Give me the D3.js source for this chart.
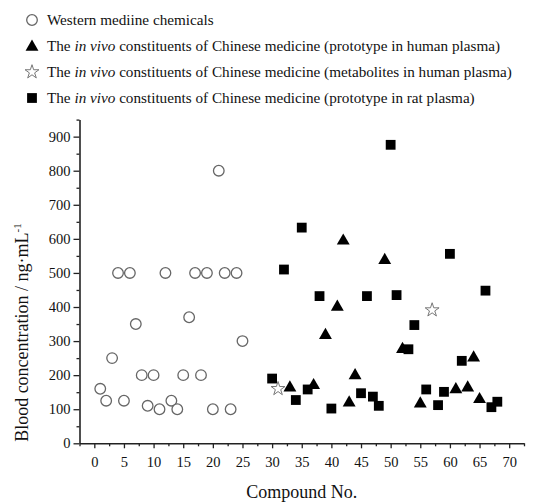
<!DOCTYPE html>
<html><head><meta charset="utf-8">
<script src="https://cdn.jsdelivr.net/npm/d3@7"></script>
<style>
html,body{margin:0;padding:0;background:#fff;}
svg{display:block;}
svg text{font-family:"Liberation Serif","Times New Roman",serif;}
</style></head>
<body><svg id="c" width="539" height="502"></svg>
<script>
// Western medicine chemicals (open circles)
const westernX = [1,2,3,4,5,6,7,8,9,10,11,12,13,14,15,16,17,18,19,20,21,22,23,24,25];
const westernY = [160,125,250,500,125,500,350,200,110,200,100,500,125,100,200,370,500,200,500,100,800,500,100,500,300];
// prototype in human plasma (triangles)
const humanProtoX = [33,37,39,41,42,43,44,49,52,55,61,63,64,65];
const humanProtoY = [166,173,320,403,597,122,202,540,279,119,161,166,254,132];
// metabolites in human plasma (stars)
const metabX = [31,57];
const metabY = [160,391];
// prototype in rat plasma (squares)
const ratX = [30,32,34,35,36,38,40,45,46,47,48,50,51,53,54,56,58,59,60,62,66,67,68];
const ratY = [190,510,127,633,158,432,102,147,432,137,110,876,435,276,347,158,112,151,556,242,448,106,122];
const xTicks = [0,5,10,15,20,25,30,35,40,45,50,55,60,65,70];
const yTicks = [0,100,200,300,400,500,600,700,800,900];
const legendLabels = [
  ["Western mediine chemicals"],
  ["The ","in vivo"," constituents of Chinese medicine (prototype in human plasma)"],
  ["The ","in vivo"," constituents of Chinese medicine (metabolites in human plasma)"],
  ["The ","in vivo"," constituents of Chinese medicine (prototype in rat plasma)"]
];

const FONT = "'Liberation Serif','Times New Roman',serif";
const svg = d3.select("#c");
const x = d3.scaleLinear().domain([-2.5,72.5]).range([79.5,524]);
const y = d3.scaleLinear().domain([0,950]).range([443.3,119.6]);
const axisColor = "#222";

// axes
svg.append("g").attr("transform",`translate(0,${y(0)})`)
  .call(d3.axisBottom(x).tickValues(xTicks).tickSize(5).tickSizeOuter(0).tickPadding(8));
const xMinor = svg.append("g").attr("transform",`translate(0,${y(0)})`)
  .call(d3.axisBottom(x).tickValues(d3.range(-2.5,73,5)).tickSize(3).tickSizeOuter(0).tickFormat(""));
xMinor.select(".domain").remove();
svg.append("g").attr("transform",`translate(${x(-2.5)},0)`)
  .call(d3.axisLeft(y).tickValues(yTicks).tickSize(6).tickSizeOuter(0).tickPadding(3));
const yMinor = svg.append("g").attr("transform",`translate(${x(-2.5)},0)`)
  .call(d3.axisLeft(y).tickValues(d3.range(50,951,100)).tickSize(3).tickSizeOuter(0).tickFormat(""));
yMinor.select(".domain").remove();
svg.selectAll("g").attr("font-family",FONT);
svg.selectAll(".domain").attr("stroke",axisColor).attr("stroke-width",1.6);
svg.selectAll(".tick line").attr("stroke",axisColor).attr("stroke-width",1.3);
svg.selectAll(".tick text").attr("fill","#111").attr("font-family",FONT).attr("font-size",14.5);

// axis titles
svg.append("text").attr("x",x(35)).attr("y",498).attr("text-anchor","middle")
  .attr("font-family",FONT).attr("font-size",18).attr("fill","#111").text("Compound No.");
const yt = svg.append("text").attr("transform",`translate(28,${y(325)}) rotate(-90)`)
  .attr("text-anchor","middle").attr("font-family",FONT).attr("font-size",18).attr("fill","#111");
yt.append("tspan").text("Blood concentration / ng·mL");
yt.append("tspan").attr("dy",-7).attr("font-size",11).text("-1");

// marker helpers
const circleStroke = "#666";
function drawCircle(g,cx,cy){ g.append("circle").attr("cx",cx).attr("cy",cy).attr("r",5.3).attr("fill","#fff").attr("stroke",circleStroke).attr("stroke-width",1.3); }
const triPath = d3.symbol().type(d3.symbolTriangle).size(72);
const sqPath = d3.symbol().type(d3.symbolSquare).size(96);
const starPath = d3.symbol().type(d3.symbolStar).size(60);
function drawTri(g,cx,cy){ g.append("path").attr("d",triPath()).attr("transform",`translate(${cx},${cy+1})`).attr("fill","#000"); }
function drawSq(g,cx,cy){ g.append("path").attr("d",sqPath()).attr("transform",`translate(${cx},${cy})`).attr("fill","#000"); }
function drawStar(g,cx,cy){ g.append("path").attr("d",starPath()).attr("transform",`translate(${cx},${cy})`).attr("fill","#fff").attr("stroke","#777").attr("stroke-width",1); }

const pts = svg.append("g");
westernX.forEach((v,i)=>drawCircle(pts,x(v),y(westernY[i])));
ratX.forEach((v,i)=>drawSq(pts,x(v),y(ratY[i])));
humanProtoX.forEach((v,i)=>drawTri(pts,x(v),y(humanProtoY[i])));
metabX.forEach((v,i)=>drawStar(pts,x(v),y(metabY[i])));

// legend
const lg = svg.append("g");
const drawers = [drawCircle, drawTri, drawStar, drawSq];
legendLabels.forEach((parts,i)=>{
  const cy = 20 + i*26;
  drawers[i](lg,32,cy);
  const t = lg.append("text").attr("x",47).attr("y",cy+5).attr("font-family",FONT).attr("font-size",15.2).attr("fill","#111");
  parts.forEach((p,j)=>{ const s=t.append("tspan").text(p); if(p==="in vivo") s.attr("font-style","italic"); });
});
</script></body></html>
